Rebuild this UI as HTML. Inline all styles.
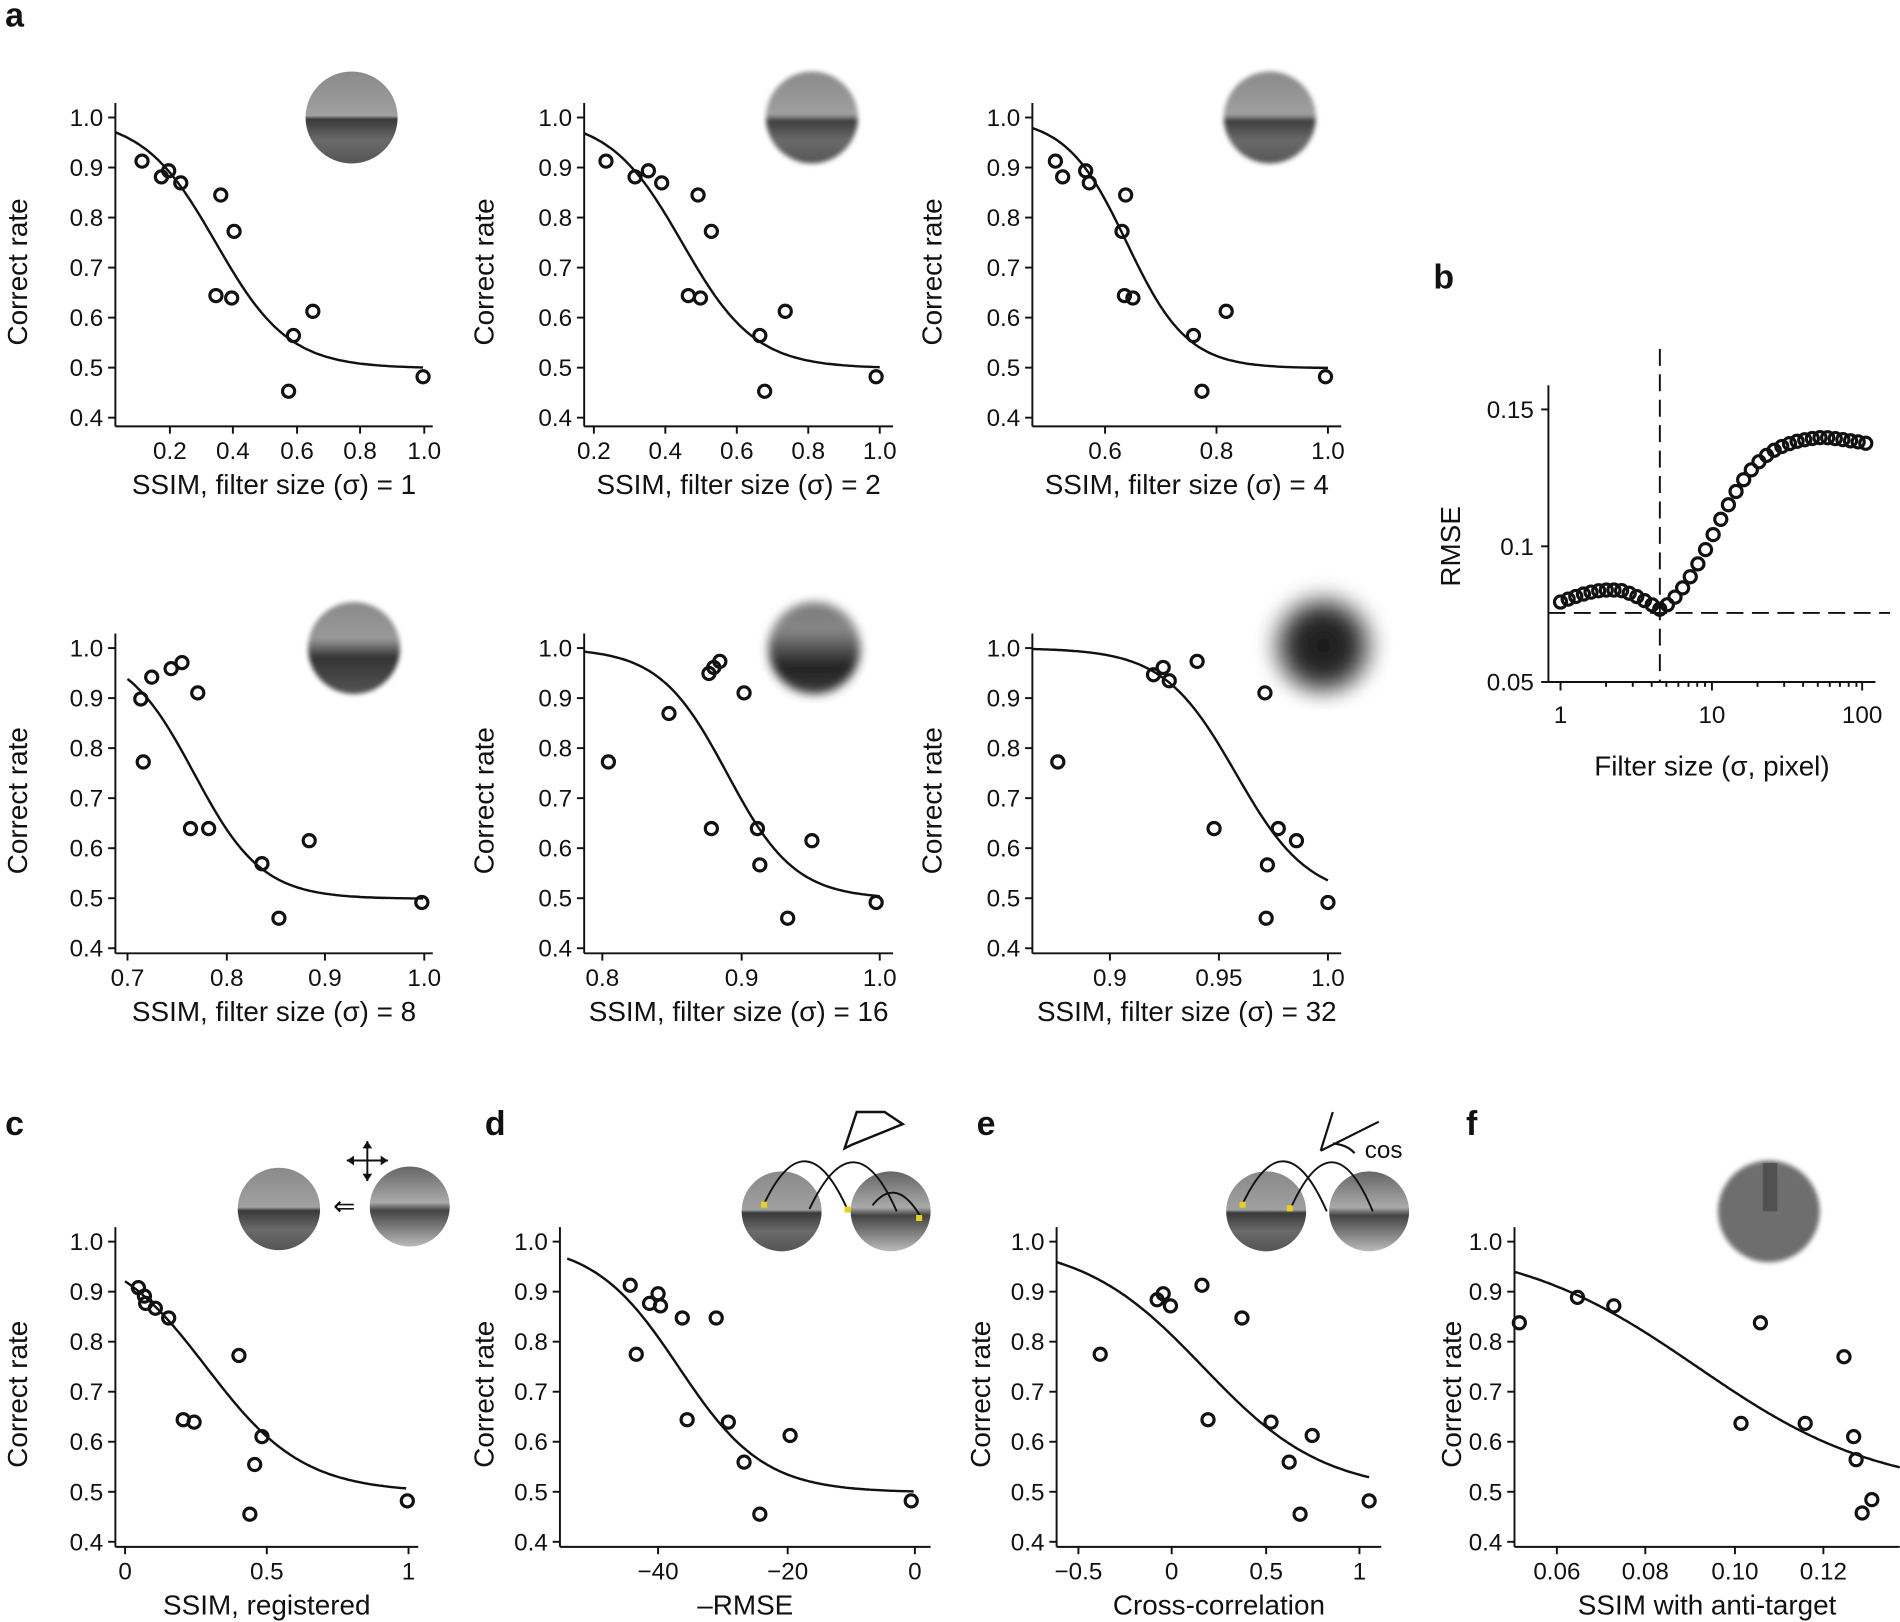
<!DOCTYPE html>
<html><head><meta charset="utf-8"><style>
html,body{margin:0;padding:0;background:#fff;}
svg{display:block;font-family:"Liberation Sans",Arial,sans-serif;}
</style></head><body>
<svg id="s" width="1900" height="1622" viewBox="0 0 1568 1339" xmlns="http://www.w3.org/2000/svg">
<defs>
<linearGradient id="g1" x1="0" y1="0" x2="0" y2="1">
<stop offset="0" stop-color="#8a8a8a"/><stop offset="0.48" stop-color="#a0a0a0"/><stop offset="0.52" stop-color="#3a3a3a"/><stop offset="0.75" stop-color="#6a6a6a"/><stop offset="1" stop-color="#555"/></linearGradient>
<linearGradient id="g2" x1="0" y1="0" x2="0" y2="1">
<stop offset="0" stop-color="#8a8a8a"/><stop offset="0.4" stop-color="#999"/><stop offset="0.6" stop-color="#333"/><stop offset="1" stop-color="#555"/></linearGradient>
<linearGradient id="g3" x1="0" y1="0" x2="0" y2="1">
<stop offset="0" stop-color="#777"/><stop offset="0.3" stop-color="#888"/><stop offset="0.7" stop-color="#222"/><stop offset="1" stop-color="#3a3a3a"/></linearGradient>
<radialGradient id="g4" cx="0.5" cy="0.55" r="0.5">
<stop offset="0" stop-color="#151515"/><stop offset="0.6" stop-color="#333"/><stop offset="1" stop-color="#fff"/></radialGradient>
<linearGradient id="g5" x1="0" y1="0" x2="0" y2="1">
<stop offset="0" stop-color="#666"/><stop offset="0.45" stop-color="#aaa"/><stop offset="0.55" stop-color="#444"/><stop offset="1" stop-color="#bbb"/></linearGradient>
<filter id="bl1"><feGaussianBlur stdDeviation="2"/></filter>
<filter id="bl2"><feGaussianBlur stdDeviation="4"/></filter>
<filter id="bl3"><feGaussianBlur stdDeviation="7"/></filter>
</defs>
<g id="root"></g>
</svg>
<script>
const root=document.getElementById('root');
let out='';
function txt(x,y,t,size,anchor,extra){out+=`<text x="${x}" y="${y}" font-size="${size}" text-anchor="${anchor||'middle'}" fill="#111" ${extra||''}>${t}</text>`;}
function line(x1,y1,x2,y2,extra){out+=`<line x1="${x1}" y1="${y1}" x2="${x2}" y2="${y2}" stroke="#111" stroke-width="1.6" ${extra||''}/>`;}
function circ(x,y){out+=`<circle cx="${x}" cy="${y}" r="5" fill="none" stroke="#111" stroke-width="2.6"/>`;}
function sig(x0,x1,xm,s,y5,yTop){let d='';for(let x=x0;x<=x1;x+=2){let v=0.5+0.5/(1+Math.exp((x-xm)/s));let y=y5-(v-0.5)*(y5-yTop)/0.5;d+=(d?'L':'M')+x+' '+y.toFixed(1);}out+=`<path d="${d}" fill="none" stroke="#111" stroke-width="2"/>`;}
function panel(axX,y10,xAxY,xEnd,xticks,xlabel,ylabX){
  const per=41.3;
  line(axX,y10-12,axX,xAxY);
  line(axX,xAxY,xEnd,xAxY);
  for(let k=0;k<7;k++){let y=y10+k*per;line(axX-6,y,axX,y);txt(axX-10,y+7,(1-k*0.1).toFixed(1),20,'end');}
  for(const [px,l] of xticks){line(px,xAxY,px,xAxY+6);txt(px,xAxY+27,l,20);}
  txt((axX+xEnd)/2,xAxY+56,xlabel,23);
  out+=`<text transform="translate(${ylabX},${(y10+xAxY)/2}) rotate(-90)" font-size="23" text-anchor="middle" fill="#111">Correct rate</text>`;
}
const S='&#963;';
panel(95,97,352,357,[[140,'0.2'],[192,'0.4'],[245,'0.6'],[297,'0.8'],[350,'1.0']],`SSIM, filter size (${S}) = 1`,22);
panel(482,97,352,737,[[490,'0.2'],[549,'0.4'],[608,'0.6'],[667,'0.8'],[726,'1.0']],`SSIM, filter size (${S}) = 2`,407);
panel(852,97,352,1107,[[912,'0.6'],[1004,'0.8'],[1096,'1.0']],`SSIM, filter size (${S}) = 4`,777);
panel(95,535,787,357,[[105,'0.7'],[187,'0.8'],[268,'0.9'],[350,'1.0']],`SSIM, filter size (${S}) = 8`,22);
panel(482,535,787,737,[[497,'0.8'],[612,'0.9'],[726,'1.0']],`SSIM, filter size (${S}) = 16`,407);
panel(852,535,787,1107,[[916,'0.9'],[1006,'0.95'],[1096,'1.0']],`SSIM, filter size (${S}) = 32`,777);
panel(95,1025,1277,345,[[103,'0'],[220,'0.5'],[337,'1']],'SSIM, registered',22);
panel(462,1025,1277,768,[[543,'&#8722;40'],[650,'&#8722;20'],[755,'0']],'&#8211;RMSE',407);
panel(872,1025,1277,1140,[[890,'&#8722;0.5'],[967,'0'],[1045,'0.5'],[1122,'1']],'Cross-correlation',817);
panel(1250,1025,1277,1568,[[1285,'0.06'],[1358,'0.08'],[1432,'0.10'],[1505,'0.12']],'SSIM with anti-target',1206);

sig(95,350,178,30,304,97);
sig(482,726,563,30,304,97);
sig(852,1096,930,25,304,97);
sig(105,350,160,28,742,535);
sig(482,726,600,28,742,535);
sig(852,1096,1020,30,742,535);
sig(103,336,170,40,1232,1025);
sig(468,755,560,35,1232,1025);
sig(872,1130,993,50,1232,1025);
sig(1250,1568,1401,76,1232,1025);

const pts=[
[[117,133],[133,146],[139,141],[149,151],[182,161],[193,191],[178,244],[191,246],[242,277],[258,257],[238,323],[349,311]],
[[500,133],[524,146],[535,141],[546,151],[576,161],[587,191],[568,244],[578,246],[627,277],[648,257],[631,323],[723,311]],
[[871,133],[877,146],[896,141],[899,151],[929,161],[926,191],[928,244],[935,246],[985,277],[1012,257],[992,323],[1094,311]],
[[116,577],[118,629],[125,559],[141,552],[150,547],[163,572],[157,684],[172,684],[216,713],[255,694],[230,758],[348,745]],
[[502,629],[552,589],[585,556],[589,551],[594,546],[614,572],[587,684],[625,684],[627,714],[670,694],[650,758],[723,745]],
[[873,629],[952,557],[960,551],[965,562],[988,546],[1002,684],[1044,572],[1046,714],[1045,758],[1055,684],[1070,694],[1096,745]],
[[114,1063],[119,1070],[120,1076],[128,1080],[139,1088],[151,1172],[160,1174],[197,1119],[210,1209],[216,1186],[206,1250],[336,1239]],
[[520,1061],[525,1118],[536,1076],[543,1068],[545,1078],[563,1088],[567,1172],[591,1088],[601,1174],[614,1207],[627,1250],[652,1185],[752,1239]],
[[908,1118],[955,1073],[960,1068],[966,1078],[992,1061],[997,1172],[1025,1088],[1049,1174],[1064,1207],[1073,1250],[1083,1185],[1130,1239]],
[[1254,1092],[1302,1071],[1332,1078],[1437,1175],[1453,1092],[1490,1175],[1522,1120],[1530,1186],[1532,1205],[1537,1249],[1545,1238]]
];
pts.forEach(p=>p.forEach(q=>circ(q[0],q[1])));

// panel b
line(1278,318,1278,563);line(1278,563,1548,563);
[[338,'0.15'],[451,'0.1'],[563,'0.05']].forEach(([y,l])=>{line(1272,y,1278,y);txt(1266,y+7,l,20,'end');});
[[1288,'1'],[1413,'10'],[1537,'100']].forEach(([x,l])=>{line(x,563,x,570);txt(x,597,l,20);});
for(let d=2;d<10;d++){[1288,1413].forEach(b=>{let x=b+125*Math.log10(d);line(x,563,x,567);});}
out+=`<text transform="translate(1205,451) rotate(-90)" font-size="23" text-anchor="middle" fill="#111">RMSE</text>`;
txt(1413,640,`Filter size (${S}, pixel)`,23);
line(1370,288,1370,563,'stroke-dasharray="14,7"');
line(1278,506,1560,506,'stroke-dasharray="14,7"');
for(let x=1288;x<=1545;x+=6.3){
  let y;
  if(x<1370){y=497-10*Math.sin((x-1288)/82*Math.PI)+(x>1340?(x-1340)*0.2:0);}
  else{let t=(x-1370);y=504-160/(1+Math.exp(-(t-45)/20))+160/(1+Math.exp(45/20));
    if(x>1505)y+=(x-1505)*0.18;}
  circ(x.toFixed(1),y.toFixed(1));
}

[['a',4,22],['b',1183,238],['c',4,937],['d',400,937],['e',806,937],['f',1210,937]].forEach(([l,x,y])=>{out+=`<text x="${x}" y="${y}" font-size="28" font-weight="bold" fill="#111">${l}</text>`;});

function thumb(cx,cy,r,fill,filt){out+=`<circle cx="${cx}" cy="${cy}" r="${r}" fill="${fill}" ${filt?`filter="url(#${filt})"`:''}/>`;}
thumb(290,97,38,'url(#g1)');thumb(670,97,38,'url(#g1)','bl1');thumb(1048,97,38,'url(#g1)','bl1');
thumb(292,535,38,'url(#g2)','bl1');thumb(672,535,38,'url(#g3)','bl2');thumb(1092,528,48,'url(#g4)','bl3');
thumb(230,998,34,'url(#g1)');thumb(338,996,33,'url(#g5)');
out+=`<text x="284" y="1003" font-size="22" text-anchor="middle" fill="#111">&#8656;</text>`;
line(286,958,320,958);line(303,942,303,975);
out+=`<path d="M286 958l6-4v8zM320 958l-6-4v8zM303 942l-4 6h8zM303 975l-4-6h8z" fill="#111"/>`;
// d
thumb(645,1000,33,'url(#g1)');thumb(735,1000,33,'url(#g5)');
out+=`<path d="M630 995 Q665 920 700 1000 M668 998 Q705 920 740 1000 M720 995 Q740 970 760 1005" fill="none" stroke="#111" stroke-width="1.6"/>`;
out+=`<rect x="628" y="992" width="5" height="5" fill="#e8d020"/><rect x="697" y="996" width="5" height="5" fill="#e8d020"/><rect x="756" y="1003" width="5" height="5" fill="#e8d020"/>`;
out+=`<path d="M697 948 L707 918 L730 918 L745 928 L703 945 Z" fill="none" stroke="#111" stroke-width="2"/>`;
// e
thumb(1045,1000,33,'url(#g1)');thumb(1130,1000,33,'url(#g5)');
out+=`<path d="M1025 995 Q1060 920 1095 1000 M1065 998 Q1100 920 1133 1000" fill="none" stroke="#111" stroke-width="1.6"/>`;
out+=`<rect x="1023" y="992" width="5" height="5" fill="#e8d020"/><rect x="1062" y="995" width="5" height="5" fill="#e8d020"/>`;
out+=`<path d="M1090 950 L1100 918 M1090 950 L1138 926 M1100 944 Q1112 945 1118 952" fill="none" stroke="#111" stroke-width="1.8"/>`;
txt(1142,956,'cos',20);
// f
thumb(1460,1000,42,'#6e6e6e','bl1');
out+=`<rect x="1455" y="960" width="12" height="40" fill="#444" opacity="0.7"/>`;
root.innerHTML=out;
</script>
</body></html>
